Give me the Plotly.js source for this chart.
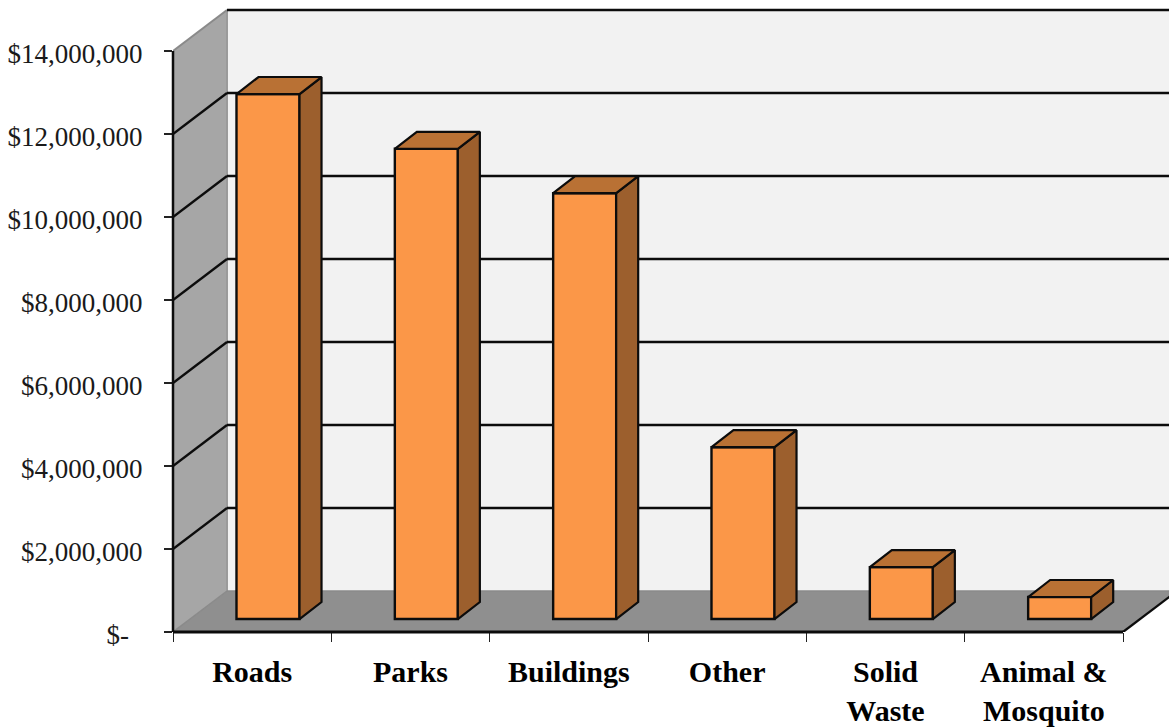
<!DOCTYPE html>
<html>
<head>
<meta charset="utf-8">
<script src="https://cdn.plot.ly/plotly-3.0.1.min.js"></script>
<style>html,body{margin:0;padding:0;background:#fff;overflow:hidden}</style>
</head>
<body>
<div id="chart" style="width:1169px;height:727px"></div>
<script>
// Capital spending by category
const categories = ['Roads', 'Parks', 'Buildings', 'Other', 'Solid<br>Waste', 'Animal &<br>Mosquito'];
const spending = [12650000, 11330000, 10260000, 4140000, 1250000, 530000];
const yTicks = [0, 2000000, 4000000, 6000000, 8000000, 10000000, 12000000, 14000000];
const yTickLabels = ['$-\u00a0\u00a0', '$2,000,000', '$4,000,000', '$6,000,000', '$8,000,000', '$10,000,000', '$12,000,000', '$14,000,000'];

const FRONT = '#fb9748', SIDE = '#9c5f2d', TOP = '#b97134';
const WALL = '#a6a6a6', BACK = '#f2f2f2', FLOOR = '#8f8f8f', EDGE = '#8a8a8a', INK = '#0c0c0c';

// Oblique projection: how far the back of the box and each bar shift, in axis units
const wallDx = 0.341, wallDy = 988000;
const barDx = 0.139, barDy = 410000;
const barLift = 313000, barShift = 0.1, barWidth = 0.398;
const xEnd = 6.2905, yEnd = 15229000, yTop = yTicks[yTicks.length - 1];
const farX = xEnd + 1;
const centers = categories.map((_, i) => i + 0.5 + barShift);
const boundaries = categories.map((_, i) => i).concat(categories.length);

function poly(pts) {
  return 'M' + pts.map(p => p[0] + ',' + p[1]).join('L') + 'Z';
}
function rule(x0, y0, x1, y1, color, width) {
  return {type: 'line', layer: 'below', xref: 'x', yref: 'y', x0, y0, x1, y1, line: {color, width}};
}
function area(pts, color) {
  return {type: 'path', layer: 'below', xref: 'x', yref: 'y', path: poly(pts), fillcolor: color, line: {width: 0}};
}

const shapes = [
  area([[wallDx, wallDy], [wallDx, yTop + wallDy], [farX, yTop + wallDy], [farX, wallDy]], BACK),
  area([[0, 0], [wallDx, wallDy], [6 + wallDx, wallDy], [6, 0]], FLOOR),
  area([[6 + wallDx, wallDy], [farX, wallDy], [farX, wallDy * 2], [6 + wallDx * 2, wallDy * 2]], BACK),
  area([[0, 0], [0, yTop], [wallDx, yTop + wallDy], [wallDx, wallDy]], WALL),
  rule(wallDx, wallDy, wallDx, yTop + wallDy, '#9a9a9a', 2),
  rule(0, 0, wallDx, wallDy, EDGE, 1.5),
  rule(wallDx, wallDy, farX, wallDy, EDGE, 1.5),
  rule(0, yTop, wallDx, yTop + wallDy, EDGE, 2),
  rule(wallDx, yTop + wallDy, farX, yTop + wallDy, INK, 2.5)
];
yTicks.slice(1, -1).forEach(v => {
  shapes.push(rule(0, v, wallDx, v + wallDy, INK, 2.3));
  shapes.push(rule(wallDx, v + wallDy, farX, v + wallDy, INK, 2.3));
});
// Outer frame: mixed references keep these strokes from being cut at the plot edge
shapes.push({type: 'line', layer: 'above', xref: 'paper', yref: 'y', x0: 0, x1: 0, y0: 0, y1: yTop, line: {color: INK, width: 2.5}});
shapes.push({type: 'line', layer: 'above', xref: 'x', yref: 'paper', x0: 0, x1: 6, y0: 0, y1: 0, line: {color: INK, width: 3}});
shapes.push({type: 'line', layer: 'above', xref: 'x', yref: 'y', x0: 6, y0: 0, x1: 6 + wallDx * 2, y1: wallDy * 2, line: {color: INK, width: 2.3}});

const frontFaces = {
  type: 'bar',
  x: centers,
  y: spending,
  base: spending.map(() => barLift),
  width: barWidth,
  marker: {color: FRONT, line: {color: INK, width: 2.4}},
  hovertemplate: '%{y:$,.0f}<extra></extra>'
};

function faceTrace(color, corners) {
  const xs = [], ys = [];
  spending.forEach((v, i) => {
    const l = centers[i] - barWidth / 2, r = centers[i] + barWidth / 2, t = barLift + v;
    corners(l, r, t).forEach(p => { xs.push(p[0]); ys.push(p[1]); });
    xs.push(null); ys.push(null);
  });
  return {type: 'scatter', mode: 'lines', x: xs, y: ys, fill: 'toself', fillcolor: color,
          line: {color: INK, width: 2.2}, hoverinfo: 'skip'};
}
const sideFaces = faceTrace(SIDE, (l, r, t) => [
  [r, barLift], [r, t], [r + barDx, t + barDy], [r + barDx, barLift + barDy], [r, barLift]
]);
const topFaces = faceTrace(TOP, (l, r, t) => [
  [l, t], [r, t], [r + barDx, t + barDy], [l + barDx, t + barDy], [l, t]
]);

const layout = {
  width: 1169, height: 727,
  margin: {l: 173, r: 0, t: 0, b: 95, pad: 0},
  paper_bgcolor: '#fff', plot_bgcolor: '#fff',
  showlegend: false, barmode: 'overlay',
  font: {family: '"Liberation Serif", serif', color: '#111'},
  xaxis: {
    range: [0, xEnd], showgrid: false, zeroline: false, showline: false,
    tickmode: 'array', tickvals: categories.map((_, i) => i + 0.5), ticktext: categories,
    ticks: '', tickangle: 0, ticklabelstandoff: 19,
    tickfont: {family: '"Liberation Serif", serif', size: 30, color: '#000', weight: 'bold'},
    minor: {ticks: 'outside', tickmode: 'array', tickvals: boundaries, ticklen: 9, tickwidth: 1, tickcolor: '#222', showgrid: false}
  },
  yaxis: {
    range: [0, yEnd], showgrid: false, zeroline: false, showline: false,
    tickmode: 'array', tickvals: yTicks, ticktext: yTickLabels,
    ticks: 'outside', ticklen: 8, tickwidth: 1.5, tickcolor: '#222',
    ticklabelstandoff: 16, ticklabelshift: 3,
    tickfont: {family: '"Liberation Serif", serif', size: 27, color: '#1a1a1a'}
  },
  shapes
};

Plotly.newPlot('chart', [frontFaces, sideFaces, topFaces], layout, {displayModeBar: false, staticPlot: true});
</script>
</body>
</html>
